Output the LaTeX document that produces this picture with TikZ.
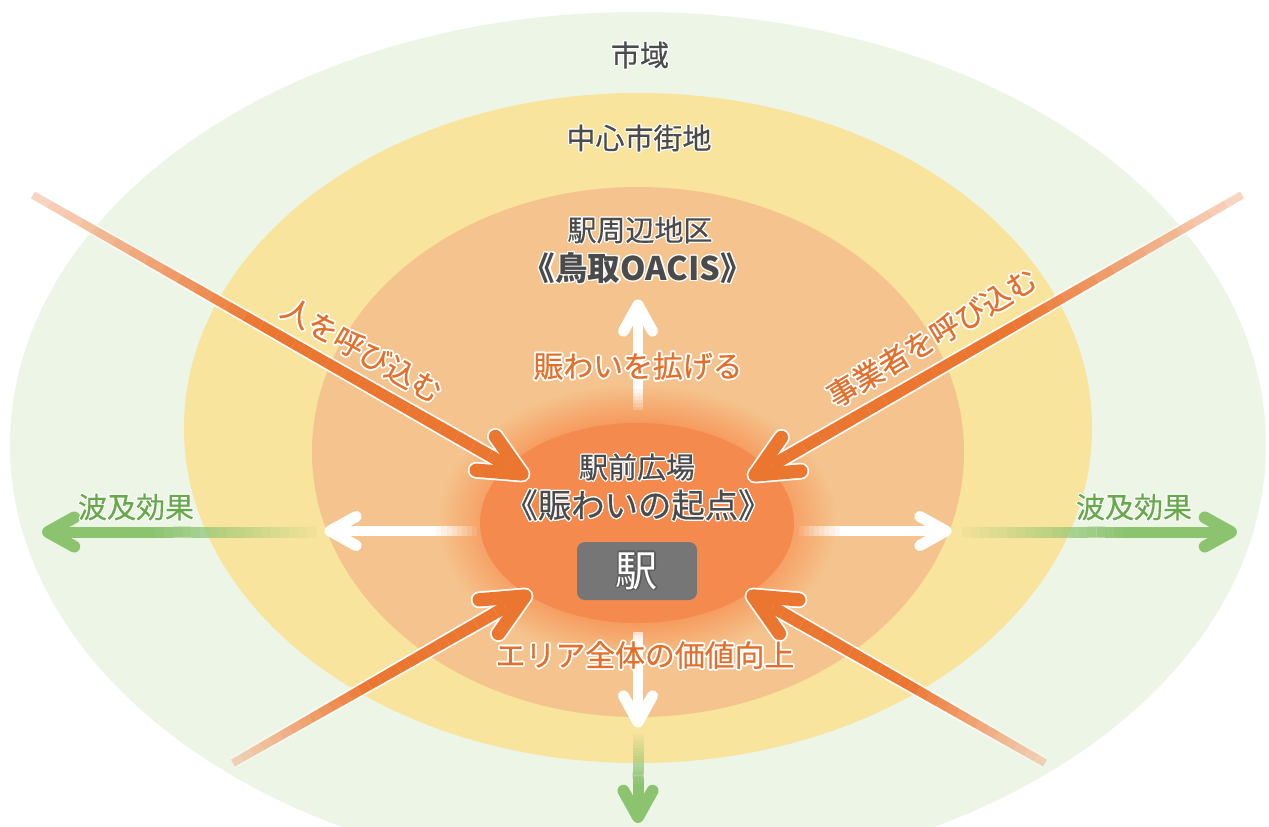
\documentclass[tikz,border=0pt]{standalone}
\usepackage{fontspec}
\newfontfamily\jp{Noto Sans CJK JP}
\newfontfamily\jpm{Noto Sans CJK JP}[FakeBold=0.5]
\usetikzlibrary{calc}
\definecolor{cgreenbg}{HTML}{EDF5E7}
\definecolor{cyellow}{HTML}{F8E49C}
\definecolor{clorange}{HTML}{F5C38D}
\definecolor{cinner}{HTML}{F48A4E}
\definecolor{corange}{HTML}{EB7630}
\definecolor{ctext}{HTML}{4B4B4B}
\definecolor{cotext}{HTML}{E46E2A}
\definecolor{cgreen}{HTML}{8BC36E}
\definecolor{cgtext}{HTML}{67A84A}
\definecolor{cgray}{HTML}{767676}
\definecolor{cekiedge}{HTML}{5A5A5A}
\pgfdeclareradialshading{glowshade}{\pgfpoint{0bp}{0bp}}{rgb(0bp)=(0.965,0.58,0.34); rgb(17bp)=(0.965,0.58,0.34); rgb(21bp)=(0.963,0.67,0.44); rgb(25bp)=(0.961,0.765,0.553); rgb(50bp)=(0.961,0.765,0.553)}
% gradient line: #1 from, #2 to, #3 colour, #4 start opacity, #5 fraction at full opacity, #6 start width px, #7 end width px, #8 extra width px
\newcommand\gline[8]{%
  \foreach \gi in {0,...,29}{%
    \pgfmathsetmacro\gta{\gi/30}%
    \pgfmathsetmacro\gtb{(\gi+1)/30}%
    \pgfmathsetmacro\gop{min(1,#4+(1-#4)*\gta/#5)}%
    \pgfmathsetmacro\gw{(#6+(#7-#6)*\gta+#8)*0.569}%
    \draw[#3, draw opacity=\gop, line width=\gw pt, line cap=butt] ($(#1)!\gta!(#2)$) -- ($(#1)!\gtb!(#2)$);
  }}
% chevron head: #1 tip, #2 tail, #3 arm length, #4 half angle, #5 style, #6 width
\newcommand\chev[6]{%
  \draw[#5, line width=#6, line cap=round, line join=round] ($(#1)!#3!#4:(#2)$) -- (#1) -- ($(#1)!#3!-#4:(#2)$);}
\newcommand\oarrow[2]{%
  \gline{#1}{#2}{white}{0.3}{0.45}{8}{12.5}{3.5}
  \chev{#2}{#1}{0.92cm}{25}{white}{9.6pt}
  \gline{#1}{#2}{corange}{0.3}{0.45}{8}{12.5}{0}
  \chev{#2}{#1}{0.92cm}{25}{corange}{7.6pt}}
\newcommand\warrow[4]{%
  \gline{#1}{#2}{white}{#3}{#4}{10}{10}{0}
  \chev{#2}{#1}{0.6cm}{29}{white}{6.3pt}}
\newcommand\garrow[2]{%
  \gline{#1}{#2}{cgreen}{0.08}{0.6}{11}{11}{0}
  \chev{#2}{#1}{0.6cm}{29}{cgreen}{6.8pt}}
% halo text: #1 name, #2 x,y, #3 style, #4 halo colour, #5 radius, #6 text
\newcommand\halo[6]{%
  \foreach \hk in {0,30,...,330}{\node[#3,text=#4] (#1-\hk) at ($(#2)+(\hk:#5)$) {#6};}
  \node[#3] (#1) at (#2) {#6};}
\begin{document}
\begin{tikzpicture}[x=0.02cm,y=-0.02cm,
  lbl/.style={font=\jpm\fontsize{16.5}{19}\selectfont, text=ctext, inner sep=0pt},
  lblbig/.style={font=\jp\bfseries\fontsize{18.5}{21}\selectfont, text=ctext, inner sep=0pt},
  lblmid/.style={font=\jpm\fontsize{19}{22}\selectfont, text=ctext, inner sep=0pt},
  otxt/.style={font=\jpm\fontsize{17}{19}\selectfont, text=cotext, inner sep=0pt},
  gtxt/.style={font=\jpm\fontsize{16.5}{19}\selectfont, text=cgtext, inner sep=0pt},
  ekitxt/.style={font=\jp\fontsize{24}{26}\selectfont, text=white, inner sep=0pt},
  ekiboxstyle/.style={fill=cgray, rounded corners=4.5pt, minimum width=68.3pt, minimum height=33pt, inner sep=0pt}]
\useasboundingbox (0,0) rectangle (1269,826);
\fill[white] (0,0) rectangle (1269,826);
% zones
\fill[cgreenbg] (638,445) ellipse [x radius=628, y radius=433];
\fill[cyellow] (638,428) ellipse [x radius=454, y radius=335];
\fill[clorange] (638,452) ellipse [x radius=326, y radius=265];
\shade[shading=glowshade] (637,522) ellipse [x radius=200, y radius=138];
\fill[cinner] (637,523) ellipse [x radius=157, y radius=100];
% coordinates
\coordinate (ulA) at (33,195);   \coordinate (ulT) at (522,474);
\coordinate (urA) at (1242,195); \coordinate (urT) at (755,475);
\coordinate (llA) at (233,763);  \coordinate (llT) at (525,596);
\coordinate (lrA) at (1045,763); \coordinate (lrT) at (753,596);
\coordinate (wuA) at (638,410);  \coordinate (wuT) at (638,305);
\coordinate (wdA) at (638,632);  \coordinate (wdT) at (638,722);
\coordinate (wlA) at (482,531);  \coordinate (wlT) at (330,531);
\coordinate (wrA) at (794,531);  \coordinate (wrT) at (946,531);
\coordinate (glA) at (316,532);  \coordinate (glT) at (48,532);
\coordinate (grA) at (962,532);  \coordinate (grT) at (1231,532);
\coordinate (gdA) at (638,734);  \coordinate (gdT) at (638,817);
% white arrows
\warrow{wuA}{wuT}{0.2}{0.2}
\warrow{wdA}{wdT}{0.7}{0.1}
\warrow{wlA}{wlT}{0}{0.3}
\warrow{wrA}{wrT}{0}{0.3}
% green arrows
\garrow{glA}{glT}
\garrow{grA}{grT}
\garrow{gdA}{gdT}
% orange arrows
\oarrow{ulA}{ulT}
\oarrow{urA}{urT}
\oarrow{llA}{llT}
\oarrow{lrA}{lrT}
% station box
\node[ekiboxstyle] (ekibox) at (637,571) {};
\halo{eki}{637,571}{ekitxt}{cekiedge}{1.2}{駅}
% labels
\halo{shiiki}{640,55}{lbl}{white}{1.2}{市域}
\halo{chushin}{639,138}{lbl}{white}{1.2}{中心市街地}
\halo{ekishuhen}{640,230}{lbl}{white}{1.2}{駅周辺地区}
\halo{oacis}{638,268}{lblbig}{white}{1.4}{《鳥取OACIS》}
\halo{hirogeru}{638,366}{otxt}{white}{1.8}{賑わいを拡げる}
\halo{ekimae}{637,467}{lbl}{white}{1.2}{駅前広場}
\halo{kiten}{638,505}{lblmid}{white}{1.3}{《賑わいの起点》}
\halo{kachi}{645,655}{otxt}{white}{1.8}{エリア全体の価値向上}
\halo{hakyuL}{136,507}{gtxt}{white}{1.0}{波及効果}
\halo{hakyuR}{1134,507}{gtxt}{white}{1.0}{波及効果}
\halo{hito}{362,350}{otxt,rotate=-30}{white}{1.8}{人を呼び込む}
\halo{jigyo}{932,337}{otxt,rotate=31}{white}{1.8}{事業者を呼び込む}
\end{tikzpicture}
\end{document}
